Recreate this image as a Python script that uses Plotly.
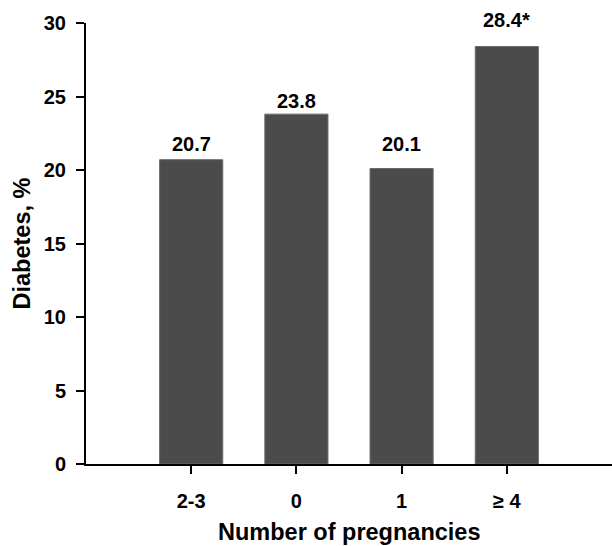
import plotly.graph_objects as go

categories = ["2-3", "0", "1", "≥ 4"]
values = [20.7, 23.8, 20.1, 28.4]
labels = ["20.7", "23.8", "20.1", "28.4*"]
y_ticks = [0, 5, 10, 15, 20, 25, 30]

FONT = "Liberation Sans, Arial, Helvetica, sans-serif"

# pixel gap between each bar top and its value label (styling only)
label_gap_px = [3, 0, 12, 14]

xs = list(range(len(categories)))

fig = go.Figure(
    go.Bar(
        x=xs,
        y=values,
        marker=dict(color="#4b4b4b", line=dict(color="#6a6a6a", width=1)),
        width=0.6,
        hoverinfo="skip",
    )
)

annotations = [
    dict(text=f"<b>{lab}</b>", x=x, y=v, xref="x", yref="y",
         xanchor="center", yanchor="bottom", yshift=g, showarrow=False,
         font=dict(family=FONT, size=20, color="black"))
    for x, v, lab, g in zip(xs, values, labels, label_gap_px)
]
annotations += [
    dict(text="<b>Number of pregnancies</b>", xref="paper", yref="paper",
         x=0.5, y=0, xanchor="center", yanchor="middle", yshift=-68,
         showarrow=False, font=dict(family=FONT, size=23.5, color="black")),
    dict(text="<b>Diabetes, %</b>", xref="paper", yref="paper",
         x=0, y=0.5, xanchor="center", yanchor="middle", xshift=-65,
         textangle=-90, showarrow=False,
         font=dict(family=FONT, size=23.5, color="black")),
]

fig.update_layout(
    width=612,
    height=546,
    margin=dict(l=86, r=0, t=23, b=82),
    paper_bgcolor="white",
    plot_bgcolor="white",
    showlegend=False,
    font=dict(family=FONT, color="black"),
    annotations=annotations,
)

fig.update_xaxes(
    range=[-1, 4],
    automargin=False,
    tickmode="array",
    tickvals=xs,
    ticktext=categories,
    ticks="outside",
    ticklen=8,
    tickwidth=2,
    tickcolor="black",
    showline=True,
    linecolor="black",
    linewidth=2,
    showgrid=False,
    zeroline=False,
    tickfont=dict(family=FONT, size=20, color="black", weight="bold"),
    ticklabelstandoff=10,
)

fig.update_yaxes(
    range=[0, 30],
    automargin=False,
    tickmode="array",
    tickvals=y_ticks,
    ticktext=[str(v) for v in y_ticks],
    ticks="outside",
    ticklen=8,
    tickwidth=2,
    tickcolor="black",
    showline=True,
    linecolor="black",
    linewidth=2,
    showgrid=False,
    zeroline=False,
    tickfont=dict(family=FONT, size=20, color="black", weight="bold"),
    ticklabelstandoff=6,
)

fig.write_html("out.html", config={"displayModeBar": False},
               post_script="document.body.style.margin='0';")
